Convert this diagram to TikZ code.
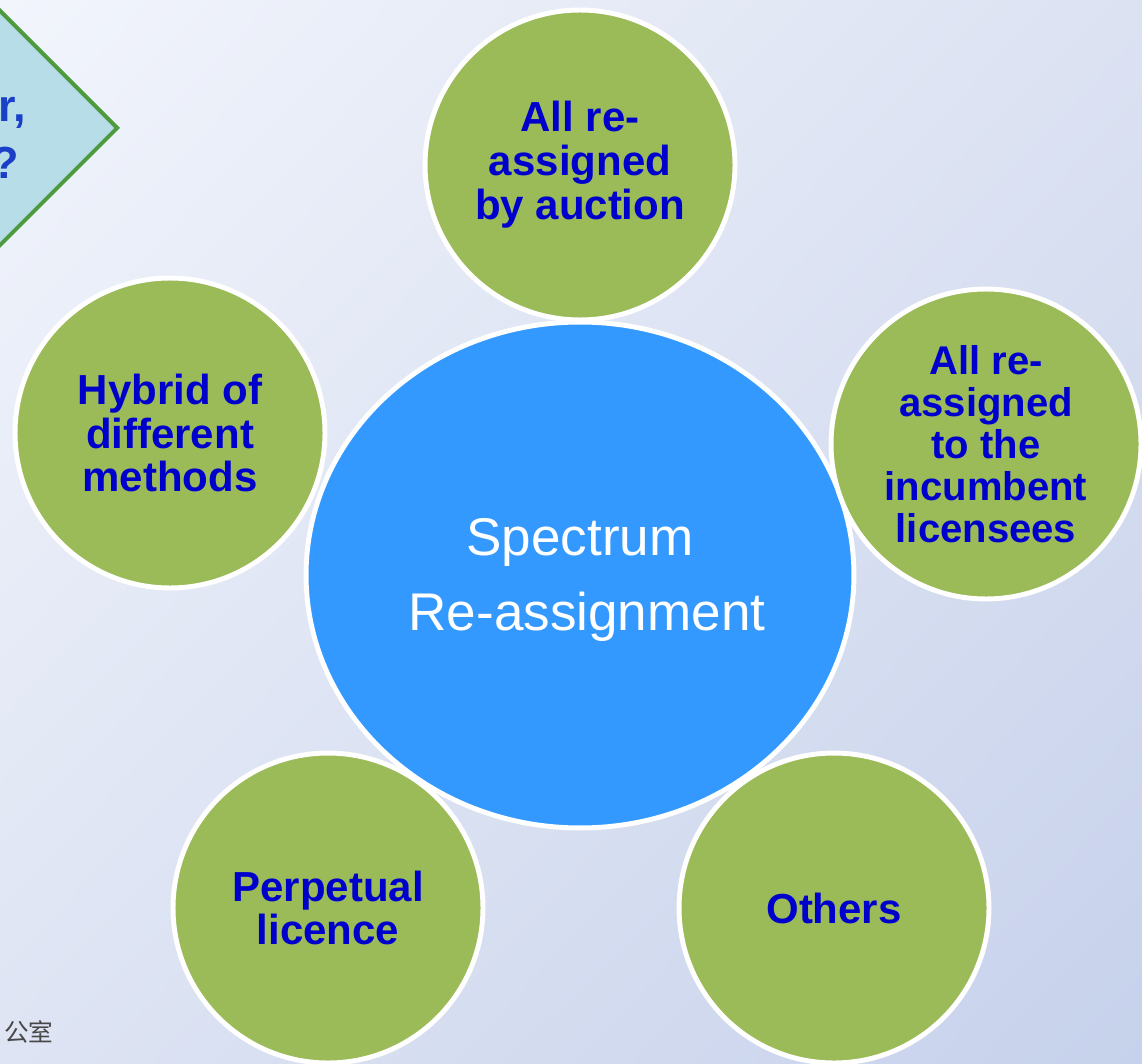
\documentclass[tikz,border=0pt]{standalone}
\usepackage{fontspec}
\setmainfont{Liberation Sans}
\newfontfamily\cjkfont{Noto Sans CJK SC}
\usetikzlibrary{shapes.geometric}
\usetikzlibrary{shadings}
\usetikzlibrary{positioning}

\definecolor{leafgreen}{HTML}{9BBB59}
\definecolor{skyblue}{HTML}{3399FF}
\definecolor{deepblue}{HTML}{0000CC}
\definecolor{paleteal}{HTML}{B7DEE8}
\definecolor{edgegreen}{HTML}{4E9A3E}
\definecolor{qblue}{HTML}{1A40C8}
\definecolor{bgtl}{RGB}{242,245,252}
\definecolor{bgtr}{RGB}{220,226,242}
\definecolor{bgbl}{RGB}{222,228,243}
\definecolor{bgbr}{RGB}{198,209,235}

\tikzset{
    method/.style={circle, fill=leafgreen, draw=white, line width=2.8pt,
        minimum size=6.2cm, inner sep=0pt, align=center, text=deepblue,
        font=\fontsize{23.9}{25}\selectfont\bfseries},
    hub/.style={ellipse, fill=skyblue, draw=white, line width=2.8pt,
        minimum width=10.96cm, minimum height=10.12cm, inner sep=0pt,
        align=center, text=white, font=\fontsize{30.2}{42.7}\selectfont},
    question/.style={diamond, aspect=1, fill=paleteal, draw=edgegreen,
        line width=2.3pt, minimum size=4.72cm, inner sep=0pt},
    qtext/.style={text=qblue, font=\fontsize{25.6}{28}\selectfont\bfseries,
        inner sep=0pt, anchor=east}
}

\begin{document}
\begin{tikzpicture}[x=0.02cm, y=-0.02cm]
    \useasboundingbox (0,0) rectangle (1142,1064);
    \clip (0,0) rectangle (1142,1064);
    \shade[upper left=bgtl, upper right=bgtr, lower left=bgbl, lower right=bgbr]
        (0,0) rectangle (1142,1064);

    % question box, cut by the page edge
    \node[question] (quest) at (0,128) {};
    \node[qtext] (questA) at (26,113) {r,};
    \node[qtext] (questB) at (19,163) {?};

    % centre
    \node[hub] (spectrum) at (580,575) {};
    \node[text=white, font=\fontsize{30.2}{42.7}\selectfont, align=center,
        inner sep=0pt] (spectext) at (587,580) {\hspace*{-8pt}Spectrum\\Re-assignment};

    % methods round the centre
    \node[method] (auction) at (580,165) {All re-\\assigned\\by auction};
    \node[method, font=\fontsize{22.8}{23.9}\selectfont\bfseries]
        (incumbent) at (986,444) {All re-\\assigned\\to the\\incumbent\\licensees};
    \node[method] (hybrid) at (170,433) {Hybrid of\\different\\methods};
    \node[method] (perpetual) at (328,908) {Perpetual\\licence};
    \node[method] (others) at (834,908) {Others};

    \node[text=black!72, font=\cjkfont\fontsize{14}{16}\selectfont,
        anchor=west, inner sep=0pt] (office) at (4,1032) {公室};
\end{tikzpicture}
\end{document}
